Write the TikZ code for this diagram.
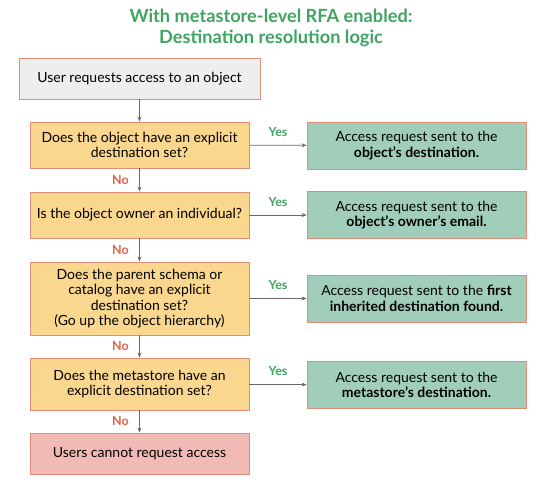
\documentclass[tikz,border=0pt]{standalone}
\usepackage{fontspec}
\setmainfont{Lato}
\usetikzlibrary{arrows.meta,shadows}
\definecolor{titlegreen}{RGB}{64,163,98}
\definecolor{noredd}{RGB}{226,95,72}
\definecolor{boxedge}{RGB}{226,140,120}
\definecolor{startgray}{RGB}{238,238,238}
\definecolor{askyellow}{RGB}{250,215,143}
\definecolor{sentgreen}{RGB}{161,206,187}
\definecolor{denyred}{RGB}{241,186,181}
\definecolor{linegray}{RGB}{105,105,105}

\tikzset{
  flowbox/.style={draw=boxedge, line width=0.8pt, align=center, inner sep=0pt,
    font=\fontsize{14}{15.5}\selectfont,
    drop shadow={opacity=0.25, shadow xshift=0.6pt, shadow yshift=-0.9pt}},
  link/.style={linegray, line width=0.7pt, -{Stealth[length=5pt,width=4pt]}},
  yes/.style={titlegreen, font=\fontsize{12.5}{14}\selectfont\bfseries, above=5pt},
  no/.style={noredd, font=\fontsize{12.5}{14}\selectfont\bfseries, left=7pt}
}

\begin{document}
\begin{tikzpicture}[x=1pt, y=-1pt]
    \useasboundingbox (0,0) rectangle (545,482);

    % Title
    \node[titlegreen, font=\fontsize{18.2}{21}\selectfont\bfseries, align=center] (title) at (271,28)
        {With metastore-level RFA enabled:\\Destination resolution logic};

    % Decision path
    \node[flowbox, fill=startgray, minimum width=241pt, minimum height=41pt] (start) at (139.5,78.5)
        {User requests access to an object};
    \node[flowbox, fill=askyellow, minimum width=219pt, minimum height=46pt] (q1) at (139.5,145)
        {Does the object have an explicit\\destination set?};
    \node[flowbox, fill=askyellow, minimum width=219pt, minimum height=46pt] (q2) at (139.5,215)
        {Is the object owner an individual?};
    \node[flowbox, fill=askyellow, minimum width=219pt, minimum height=73pt] (q3) at (139.5,298.5)
        {Does the parent schema or\\catalog have an explicit\\destination set?\\(Go up the object hierarchy)};
    \node[flowbox, fill=askyellow, minimum width=219pt, minimum height=52pt] (q4) at (139.5,384)
        {Does the metastore have an\\explicit destination set?};
    \node[flowbox, fill=denyred, minimum width=219pt, minimum height=41pt] (deny) at (139.5,453.5)
        {Users cannot request access};

    % Results
    \node[flowbox, fill=sentgreen, minimum width=219pt, minimum height=47pt] (r1) at (416.5,145.5)
        {Access request sent to the\\\textbf{object's destination.}};
    \node[flowbox, fill=sentgreen, minimum width=219pt, minimum height=47pt] (r2) at (416.5,215)
        {Access request sent to the\\\textbf{object's owner's email.}};
    \node[flowbox, fill=sentgreen, minimum width=219pt, minimum height=47pt] (r3) at (416.5,298.5)
        {Access request sent to the \textbf{first}\\\textbf{inherited destination found.}};
    \node[flowbox, fill=sentgreen, minimum width=219pt, minimum height=47pt] (r4) at (416.5,385)
        {Access request sent to the\\\textbf{metastore's destination.}};

    % Connectors
    \draw[link] (start) -- (q1);
    \draw[link] (q1) -- node[no] {No} (q2);
    \draw[link] (q2) -- node[no] {No} (q3);
    \draw[link] (q3) -- node[no] {No} (q4);
    \draw[link] (q4) -- node[no] {No} (deny);
    \draw[link] (q1) -- node[yes] {Yes} (r1);
    \draw[link] (q2) -- node[yes] {Yes} (r2);
    \draw[link] (q3) -- node[yes] {Yes} (r3);
    \draw[link] (q4) -- node[yes] {Yes} (r4);
\end{tikzpicture}
\end{document}
